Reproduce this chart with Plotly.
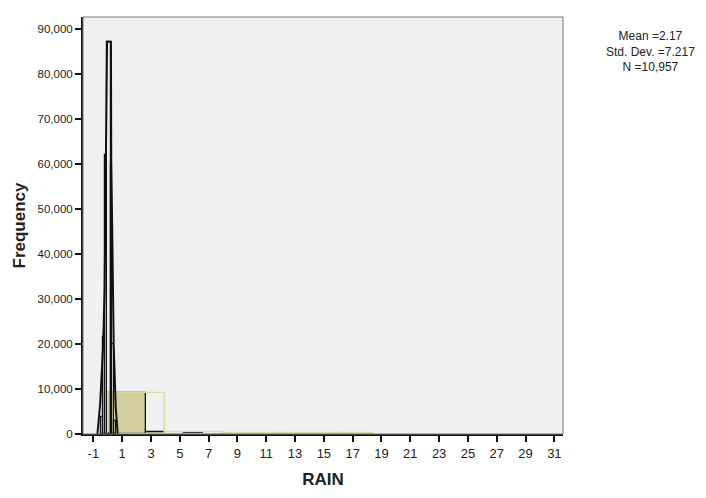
import plotly.graph_objects as go

# RAIN histogram values (frequency counts)
# Wide bins, tan fill with black outline
tan_left = [0.0, 2.64, 5.28]
tan_width = [2.64, 1.32, 1.32]
tan_count = [9200, 450, 300]

# Wide bins, pale outline only
pale_left = [0.0, 4.0, 8.0, 12.0, 16.0]
pale_width = [4.0, 4.0, 4.0, 4.0, 2.4]
pale_count = [9200, 380, 300, 260, 200]

# Narrow bins around zero, black outline
fine_left = [-0.46, -0.32, -0.20, -0.06, 0.22, 0.31, 0.45]
fine_width = [0.14, 0.12, 0.14, 0.28, 0.09, 0.14, 0.14]
fine_count = [3800, 21500, 62000, 87200, 60000, 20000, 3000]

# Fitted curve points
curve_x = [-0.72, -0.53, -0.32, -0.22, -0.18, -0.13, -0.09, -0.05, 0.22, 0.24, 0.31, 0.36, 0.41, 0.55, 0.69]
curve_y = [0, 6700, 20000, 32100, 45400, 61100, 80000, 87200, 87200, 61000, 45000, 32000, 20000, 6000, 0]

x_ticks = list(range(-1, 32, 2))
y_ticks = list(range(0, 90001, 10000))

stats_text = "Mean =2.17<br>Std. Dev. =7.217<br>N =10,957"

def centers(lefts, widths):
    return [l + w / 2 for l, w in zip(lefts, widths)]

fig = go.Figure()

fig.add_trace(go.Bar(
    x=centers(tan_left, tan_width), y=tan_count, width=tan_width,
    marker=dict(color="#d4cf9c", line=dict(color="#111111", width=1.3)),
    showlegend=False,
))
fig.add_trace(go.Bar(
    x=centers(pale_left, pale_width), y=pale_count, width=pale_width,
    marker=dict(color="rgba(0,0,0,0)", line=dict(color="#dedaa6", width=1.3)),
    showlegend=False,
))
fig.add_trace(go.Bar(
    x=centers(fine_left, fine_width), y=fine_count, width=fine_width,
    marker=dict(color="rgba(0,0,0,0)", line=dict(color="#111111", width=1.2)),
    showlegend=False,
))
fig.add_trace(go.Scatter(
    x=curve_x, y=curve_y, mode="lines",
    line=dict(color="#111111", width=2),
    showlegend=False,
))

font_family = "Liberation Sans, Arial, sans-serif"

fig.update_layout(
    width=706, height=498,
    margin=dict(l=83, r=143, t=17, b=62),
    paper_bgcolor="white",
    plot_bgcolor="#f0f0f0",
    barmode="overlay",
    bargap=0,
    font=dict(family=font_family, color="#222222", size=12),
    xaxis=dict(
        range=[-1.72, 31.6],
        tickvals=x_ticks,
        ticktext=[str(v) for v in x_ticks],
        ticks="outside", ticklen=6, tickwidth=1.5, tickcolor="#111111",
        tickfont=dict(size=13, family=font_family),
        showgrid=False, zeroline=False,
        showline=True, linecolor="#111111", linewidth=2,
        title=dict(text="<b>RAIN</b>", font=dict(size=17, family=font_family), standoff=14),
    ),
    yaxis=dict(
        range=[0, 92700],
        tickvals=y_ticks,
        tickformat=",",
        ticks="outside", ticklen=6, tickwidth=1.5, tickcolor="#111111",
        tickfont=dict(size=11.5, family=font_family),
        showgrid=False, zeroline=False,
        showline=True, linecolor="#111111", linewidth=2,
        title=dict(text="<b>Frequency</b>", font=dict(size=17, family=font_family), standoff=8),
    ),
    shapes=[dict(
        type="rect", xref="paper", yref="paper", x0=0, y0=0, x1=1, y1=1,
        line=dict(color="#777777", width=1), layer="above",
    )],
    annotations=[dict(
        text=stats_text, xref="paper", yref="paper",
        x=1.182, y=0.975, xanchor="center", yanchor="top",
        showarrow=False, align="center",
        font=dict(size=12, family=font_family, color="#222222"),
    )],
)

fig.write_html("out.html")
